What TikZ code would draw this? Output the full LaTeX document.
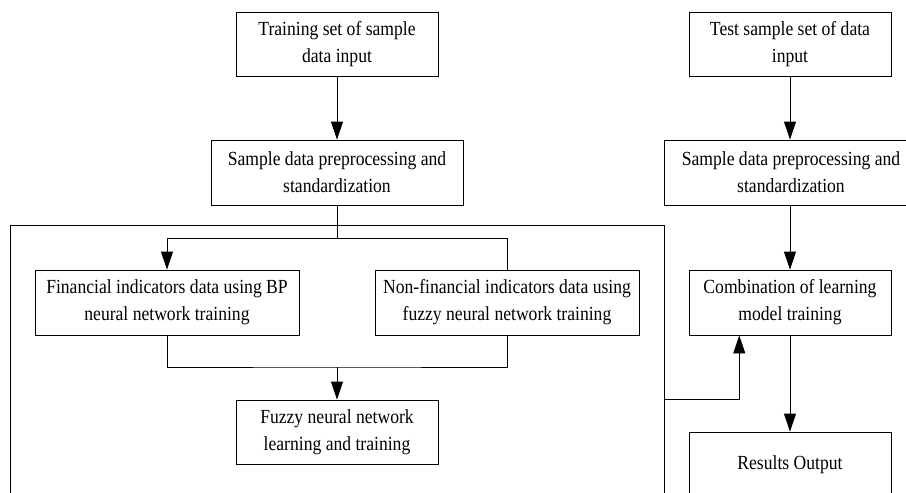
\documentclass[tikz,border=0pt]{standalone}
\usepackage{fontspec}
\setmainfont{Liberation Serif}[FakeStretch=0.88]
\usetikzlibrary{arrows.meta,calc}
\begin{document}
\begin{tikzpicture}[x=1pt,y=-1pt,
  box/.style={draw,line width=0.9pt,inner sep=0pt,align=center,
    font=\fontsize{20pt}{27pt}\selectfont},
  conn/.style={line width=0.9pt},
  arr/.style={line width=0.9pt,-{Triangle[length=18pt,width=12pt]}}]
\useasboundingbox (0,0) rectangle (906,493);
\clip (0,0) rectangle (906,493);
\node[box,minimum width=202pt,minimum height=64pt] (train) at (337,44) {Training set of sample\\data input};
\node[box,minimum width=252pt,minimum height=65pt] (prep1) at (337,172.5) {Sample data preprocessing and\\standardization};
\node[box,minimum width=202pt,minimum height=64pt] (test) at (790,44) {Test sample set of data\\input};
\node[box,minimum width=254pt,minimum height=65pt] (prep2) at (791,172.5) {Sample data preprocessing and\\standardization};
\node[box,minimum width=264pt,minimum height=65pt] (fin) at (167,302.5) {Financial indicators data using BP\\neural network training};
\node[box,minimum width=264pt,minimum height=65pt] (nonfin) at (507,302.5) {Non-financial indicators data using\\fuzzy neural network training};
\node[box,minimum width=202pt,minimum height=64pt] (fuzzy) at (337,432) {Fuzzy neural network\\learning and training};
\node[box,minimum width=202pt,minimum height=65pt] (comb) at (790,302.5) {Combination of learning\\model training};
\node[box,minimum width=202pt,minimum height=66pt] (res) at (790,465) {Results Output};
\node[draw,line width=0.9pt,inner sep=0pt,anchor=north west,minimum width=654pt,minimum height=300pt] (frame) at (10,225) {};
\coordinate (split) at (337,238);
\coordinate (join) at (337,367);
\coordinate (tap) at (664,399);
\draw[arr] (train) -- (prep1);
\draw[conn] (prep1.south) -- (split);
\draw[arr] (split) -| (fin.north);
\draw[conn] (split) -| (nonfin.north);
\draw[conn] (fin.south) |- (join) -| (nonfin.south);
\draw[arr] (join) -- (fuzzy.north);
\draw[arr] (test) -- (test |- prep2.north);
\draw[arr] (prep2.south -| comb.north) -- (comb.north);
\draw[arr] (comb) -- (res);
\draw[arr] (tap) -| ($(comb.south west)!0.25!(comb.south east)$);
\end{tikzpicture}
\end{document}
